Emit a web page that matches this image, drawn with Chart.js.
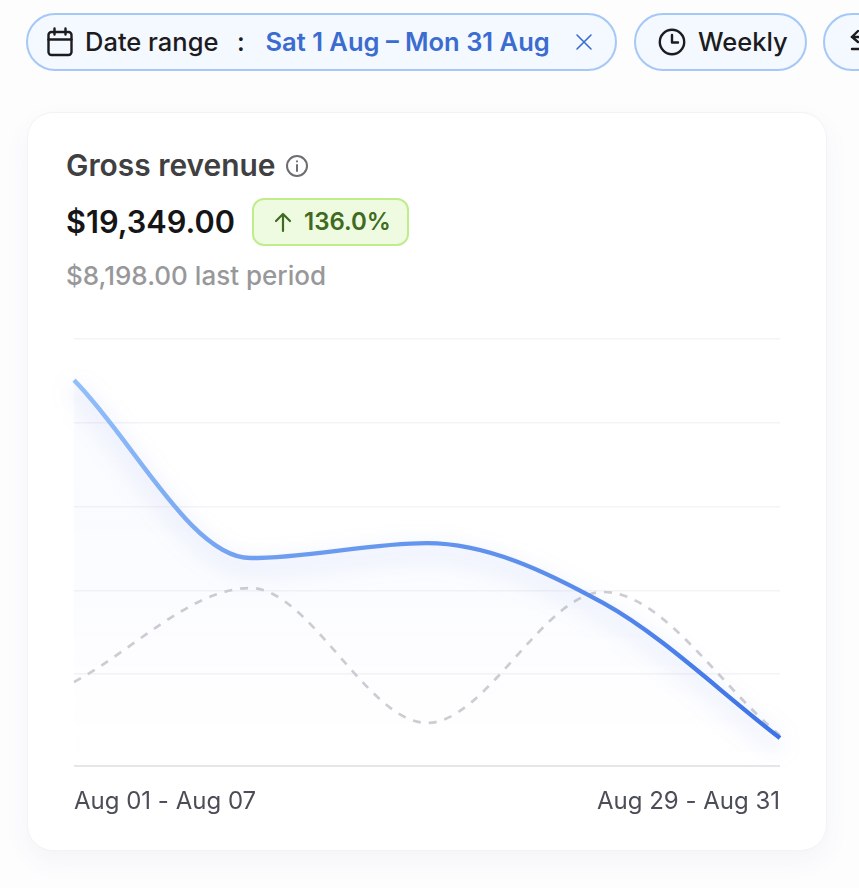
<!DOCTYPE html>
<html>
<head>
<meta charset="utf-8">
<script src="https://cdn.jsdelivr.net/npm/chart.js@4/dist/chart.umd.min.js"></script>
<style>
    html, body { margin: 0; padding: 0; }
    body { width: 859px; height: 888px; overflow: hidden; position: relative; background: #fdfdfe; font-family: Inter, "Noto Sans", sans-serif; }
    .chip { position: absolute; top: 13px; height: 54px; box-sizing: content-box; border: 2px solid #a6c8f8; border-radius: 29px; background: #f4f8ff; }
    .txt { position: absolute; white-space: nowrap; line-height: 1; }
    .card { position: absolute; left: 27px; top: 112px; width: 798px; height: 737px; border: 1px solid #f2f3f5; border-radius: 26px; background: #fff; box-shadow: 0 10px 26px rgba(60, 70, 110, 0.05); }
    .badge { position: absolute; left: 252px; top: 198px; width: 153px; height: 44px; border: 2px solid #c0ec8b; border-radius: 12px; background: #eefbe0; }
    svg { position: absolute; fill: none; }
    #chartBox { position: absolute; left: 27px; top: 320px; width: 799px; height: 520px; }
</style>
</head>
<body>
    <div class="chip" style="left:26px;width:587px"></div>
    <div class="chip" style="left:634px;width:169px"></div>
    <div class="chip" style="left:823px;width:100px"></div>

    <svg style="left:46px;top:27px" width="28" height="30" viewBox="0 0 28 30" stroke="#1c1c1e" stroke-width="2.4" stroke-linecap="round">
        <rect x="2.5" y="5" width="23" height="23" rx="3"/><path d="M2.5 12.5h23M8.5 1.5v6M19.5 1.5v6"/>
    </svg>
    <div class="txt" style="left:85px;top:29px;font-size:25.5px;font-weight:500;color:#1c1c1e">Date range</div>
    <div class="txt" style="left:237px;top:29px;font-size:25.5px;font-weight:500;color:#1c1c1e">:</div>
    <div class="txt" style="left:265.5px;top:29px;font-size:25.5px;font-weight:600;color:#3b6ccf">Sat 1 Aug – Mon 31 Aug</div>
    <svg style="left:575px;top:33px" width="18" height="18" viewBox="0 0 18 18" stroke="#3b6ccf" stroke-width="1.6" stroke-linecap="round"><path d="M2 2l14 14M16 2L2 16"/></svg>

    <svg style="left:658px;top:28px" width="28" height="28" viewBox="0 0 28 28" stroke="#1c1c1e" stroke-width="2.4" stroke-linecap="round" stroke-linejoin="round">
        <circle cx="14" cy="14" r="12.2"/><path d="M14 7v7.5h6"/>
    </svg>
    <div class="txt" style="left:698px;top:29px;font-size:25.5px;font-weight:500;color:#1c1c1e">Weekly</div>
    <svg style="left:848px;top:28px" width="11" height="28" viewBox="0 0 11 28" stroke="#1c1c1e" stroke-width="2.4" stroke-linecap="round"><path d="M10 3L4 9l6 5M4 9h8M4 21h8"/></svg>

    <div class="card"></div>
    <div class="txt" style="left:66px;top:151px;font-size:29.9px;font-weight:600;color:#404042">Gross revenue</div>
    <svg style="left:285px;top:154px" width="24" height="24" viewBox="0 0 24 24" stroke="#6e6e72" stroke-width="2" stroke-linecap="round">
        <circle cx="12" cy="12" r="10"/><path d="M12 11v6M12 7.2v.2"/>
    </svg>
    <div class="txt" style="left:66px;top:207px;font-size:30.7px;font-weight:600;color:#151517">$19,349.00</div>
    <div class="badge"></div>
    <svg style="left:273px;top:211px" width="20" height="22" viewBox="0 0 20 22" stroke="#3f6a1f" stroke-width="2.2" stroke-linecap="round" stroke-linejoin="round"><path d="M10 20V3M3 10l7-7 7 7"/></svg>
    <div class="txt" style="left:304px;top:210px;font-size:24px;font-weight:600;color:#3f6a1f">136.0%</div>
    <div class="txt" style="left:66px;top:263px;font-size:26px;font-weight:500;color:#98989b">$8,198.00 last period</div>

    <div id="chartBox"><canvas id="revenueChart"></canvas></div>

<script>
// Weekly buckets, values
const weekLabels = ['Aug 01 - Aug 07', 'Aug 08 - Aug 14', 'Aug 15 - Aug 21', 'Aug 22 - Aug 28', 'Aug 29 - Aug 31'];
const currentPeriod = [7395, 3985, 4272, 3120, 536];
const lastPeriod = [1610, 3410, 825, 3335, 590];
const gridValues = [0, 1763, 3368, 4973, 6578, 8183];

const ctx = document.getElementById('revenueChart').getContext('2d');

function lineGradient(context) {
    const area = context.chart.chartArea;
    if (!area) return '#6b9cf0';
    const g = context.chart.ctx.createLinearGradient(area.left, 0, area.right, 0);
    g.addColorStop(0, '#93bff9');
    g.addColorStop(0.25, '#6f9ff1');
    g.addColorStop(0.7, '#5a8cec');
    g.addColorStop(1, '#3c72e8');
    return g;
}

function areaGradient(context) {
    const area = context.chart.chartArea;
    if (!area) return 'transparent';
    const g = context.chart.ctx.createLinearGradient(0, area.top, 0, area.bottom);
    g.addColorStop(0, 'rgba(90, 125, 240, 0.03)');
    g.addColorStop(0.6, 'rgba(90, 125, 240, 0.024)');
    g.addColorStop(1, 'rgba(90, 125, 240, 0)');
    return g;
}

// Soft glow under the main line only
const lineGlow = {
    id: 'lineGlow',
    beforeDatasetDraw(chart, args) {
        if (args.index !== 0) return;
        chart.ctx.save();
        chart.ctx.shadowColor = 'rgba(70, 105, 225, 0.34)';
        chart.ctx.shadowBlur = 24;
        chart.ctx.shadowOffsetY = 9;
    },
    afterDatasetDraw(chart, args) {
        if (args.index === 0) chart.ctx.restore();
    }
};

new Chart(ctx, {
    type: 'line',
    data: {
        labels: weekLabels,
        datasets: [{
            label: 'Current period',
            data: currentPeriod,
            borderColor: lineGradient,
            backgroundColor: areaGradient,
            borderWidth: 4.4,
            cubicInterpolationMode: 'monotone',
            fill: 'origin',
            pointRadius: 0,
            clip: false
        }, {
            label: 'Last period',
            data: lastPeriod,
            borderColor: '#cdced2',
            borderWidth: 2.7,
            borderDash: [8, 8],
            cubicInterpolationMode: 'monotone',
            fill: false,
            pointRadius: 0
        }]
    },
    options: {
        responsive: true,
        maintainAspectRatio: false,
        animation: false,
        layout: { padding: { left: 47, right: 46, top: 19, bottom: 0 } },
        plugins: { legend: { display: false }, tooltip: { enabled: false } },
        scales: {
            x: {
                offset: false,
                border: { display: false },
                grid: { display: false },
                afterFit: function(scale) { scale.height = 74; },
                ticks: {
                    autoSkip: false,
                    maxRotation: 0,
                    align: 'inner',
                    padding: 13,
                    color: '#4b4e57',
                    font: { family: 'Inter', size: 24 },
                    callback: function(value, index) {
                        return index === 0 || index === weekLabels.length - 1 ? weekLabels[index] : '';
                    }
                }
            },
            y: {
                min: 0,
                max: 8183,
                border: { display: false },
                afterBuildTicks: function(scale) {
                    scale.ticks = gridValues.map(v => ({ value: v }));
                },
                afterFit: function(scale) { scale.width = 0; },
                ticks: { display: false },
                grid: {
                    drawTicks: false,
                    lineWidth: function(c) { return c.tick.value === 0 ? 2 : 1.5; },
                    color: function(c) { return c.tick.value === 0 ? '#e6e6e9' : '#f4f4f6'; }
                }
            }
        }
    },
    plugins: [lineGlow]
});
</script>
</body>
</html>
